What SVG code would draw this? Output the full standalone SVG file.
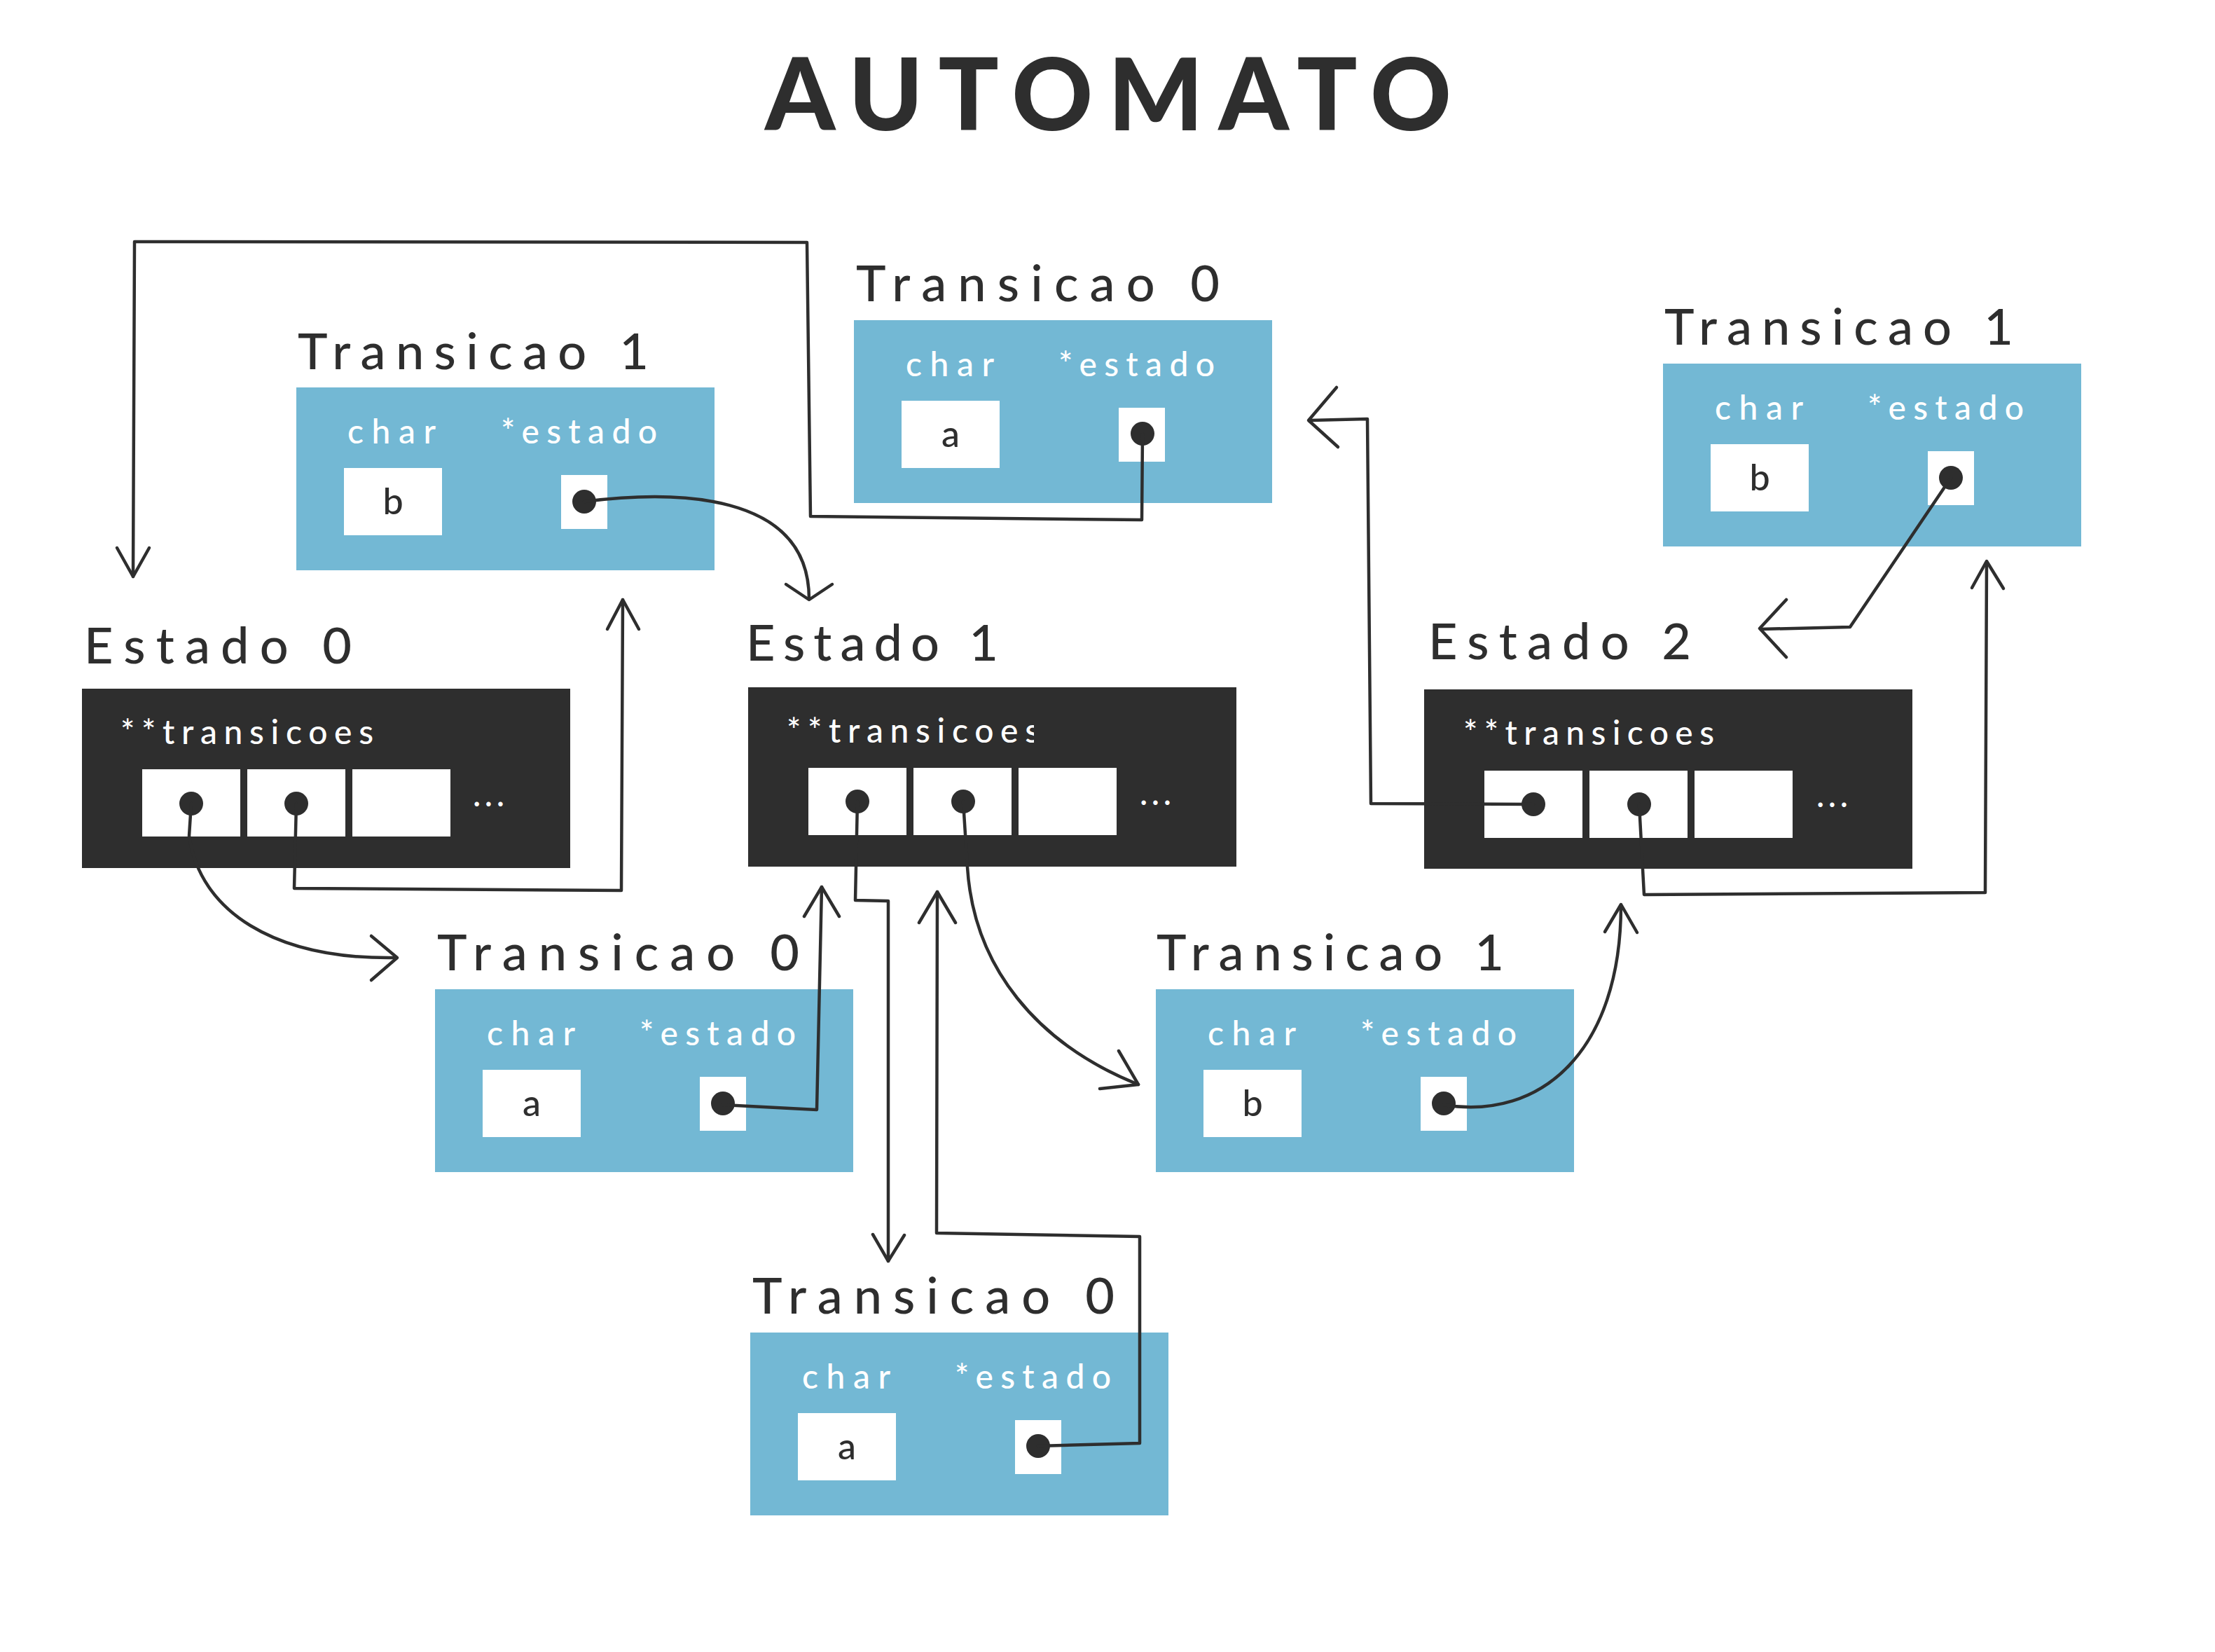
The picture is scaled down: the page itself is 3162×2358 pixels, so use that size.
<svg xmlns="http://www.w3.org/2000/svg" width="3162" height="2358" viewBox="0 0 3162 2358">
<defs>
<style>
.bg{fill:#ffffff}
.tbox{fill:#73B8D4}
.ebox{fill:#2E2E2E}
.cell{fill:#ffffff}
.dot{fill:#2E2E2E}
.title{font-family:Lato,"Liberation Sans",sans-serif;font-weight:900;font-size:143px;fill:#2E2E2E}
.lbl{font-family:Lato,"Liberation Sans",sans-serif;font-weight:500;font-size:72px;fill:#2E2E2E}
.fld{font-family:Lato,"Liberation Sans",sans-serif;font-weight:500;font-size:48px;fill:#ffffff}
.val{font-family:Lato,"Liberation Sans",sans-serif;font-weight:500;font-size:52px;fill:#2E2E2E;text-anchor:middle}
.con{fill:none;stroke:#2E2E2E;stroke-width:4.5;stroke-linecap:round;stroke-linejoin:round}
</style>
<clipPath id="clipE1"><rect x="1068" y="990" width="408" height="100"/></clipPath>
</defs>
<rect class="bg" x="0" y="0" width="3162" height="2358"/>
<text class="title" x="1092" y="186" textLength="980" lengthAdjust="spacing">AUTOMATO</text>

<g id="transicao1-a">
<text class="lbl" x="425" y="527" textLength="501" lengthAdjust="spacing">Transicao 1</text>
<rect class="tbox" x="423" y="553" width="597" height="261"/>
<text class="fld" x="496" y="633" textLength="126" lengthAdjust="spacing">char</text>
<text class="fld" x="715" y="633" textLength="223" lengthAdjust="spacing">*estado</text>
<rect class="cell" x="491" y="668" width="140" height="96"/>
<text class="val" x="561" y="734">b</text>
<rect class="cell" x="801" y="678" width="66" height="77"/>
<circle class="dot" cx="834" cy="716" r="17"/>
</g>

<g id="transicao0-a">
<text class="lbl" x="1222" y="430" textLength="519" lengthAdjust="spacing">Transicao 0</text>
<rect class="tbox" x="1219" y="457" width="597" height="261"/>
<text class="fld" x="1293" y="537" textLength="126" lengthAdjust="spacing">char</text>
<text class="fld" x="1511" y="537" textLength="223" lengthAdjust="spacing">*estado</text>
<rect class="cell" x="1287" y="572" width="140" height="96"/>
<text class="val" x="1357" y="638">a</text>
<rect class="cell" x="1597" y="582" width="66" height="77"/>
<circle class="dot" cx="1631" cy="619" r="17"/>
</g>

<g id="transicao1-b">
<text class="lbl" x="2376" y="492" textLength="498" lengthAdjust="spacing">Transicao 1</text>
<rect class="tbox" x="2374" y="519" width="597" height="261"/>
<text class="fld" x="2448" y="599" textLength="126" lengthAdjust="spacing">char</text>
<text class="fld" x="2666" y="599" textLength="223" lengthAdjust="spacing">*estado</text>
<rect class="cell" x="2442" y="634" width="140" height="96"/>
<text class="val" x="2512" y="700">b</text>
<rect class="cell" x="2752" y="644" width="66" height="77"/>
<circle class="dot" cx="2785" cy="682" r="17"/>
</g>

<g id="transicao0-b">
<text class="lbl" x="624" y="1385" textLength="517" lengthAdjust="spacing">Transicao 0</text>
<rect class="tbox" x="621" y="1412" width="597" height="261"/>
<text class="fld" x="695" y="1492" textLength="126" lengthAdjust="spacing">char</text>
<text class="fld" x="913" y="1492" textLength="223" lengthAdjust="spacing">*estado</text>
<rect class="cell" x="689" y="1527" width="140" height="96"/>
<text class="val" x="759" y="1593">a</text>
<rect class="cell" x="999" y="1537" width="66" height="77"/>
<circle class="dot" cx="1032" cy="1575" r="17"/>
</g>

<g id="transicao1-c">
<text class="lbl" x="1651" y="1385" textLength="496" lengthAdjust="spacing">Transicao 1</text>
<rect class="tbox" x="1650" y="1412" width="597" height="261"/>
<text class="fld" x="1724" y="1492" textLength="126" lengthAdjust="spacing">char</text>
<text class="fld" x="1942" y="1492" textLength="223" lengthAdjust="spacing">*estado</text>
<rect class="cell" x="1718" y="1527" width="140" height="96"/>
<text class="val" x="1788" y="1593">b</text>
<rect class="cell" x="2028" y="1537" width="66" height="77"/>
<circle class="dot" cx="2061" cy="1575" r="17"/>
</g>

<g id="transicao0-c">
<text class="lbl" x="1074" y="1875" textLength="517" lengthAdjust="spacing">Transicao 0</text>
<rect class="tbox" x="1071" y="1902" width="597" height="261"/>
<text class="fld" x="1145" y="1982" textLength="126" lengthAdjust="spacing">char</text>
<text class="fld" x="1363" y="1982" textLength="223" lengthAdjust="spacing">*estado</text>
<rect class="cell" x="1139" y="2017" width="140" height="96"/>
<text class="val" x="1209" y="2083">a</text>
<rect class="cell" x="1449" y="2027" width="66" height="77"/>
<circle class="dot" cx="1482" cy="2064" r="17"/>
</g>

<g id="estado0">
<text class="lbl" x="120" y="947" textLength="382" lengthAdjust="spacing">Estado 0</text>
<rect class="ebox" x="117" y="983" width="697" height="256"/>
<text class="fld" x="172" y="1062" textLength="361" lengthAdjust="spacing">**transicoes</text>
<rect class="cell" x="203" y="1098" width="140" height="96"/>
<rect class="cell" x="353" y="1098" width="140" height="96"/>
<rect class="cell" x="503" y="1098" width="140" height="96"/>
<circle class="dot" cx="273" cy="1147" r="17"/>
<circle class="dot" cx="423" cy="1147" r="17"/>
<text class="fld" x="675" y="1151" textLength="45" lengthAdjust="spacing">...</text>
</g>

<g id="estado1">
<text class="lbl" x="1065" y="943" textLength="360" lengthAdjust="spacing">Estado 1</text>
<rect class="ebox" x="1068" y="981" width="697" height="256"/>
<text class="fld" x="1123" y="1060" textLength="361" lengthAdjust="spacing" clip-path="url(#clipE1)">**transicoes</text>
<rect class="cell" x="1154" y="1096" width="140" height="96"/>
<rect class="cell" x="1304" y="1096" width="140" height="96"/>
<rect class="cell" x="1454" y="1096" width="140" height="96"/>
<circle class="dot" cx="1224" cy="1144" r="17"/>
<circle class="dot" cx="1375" cy="1144" r="17"/>
<text class="fld" x="1627" y="1149" textLength="45" lengthAdjust="spacing">...</text>
</g>

<g id="estado2">
<text class="lbl" x="2039" y="941" textLength="375" lengthAdjust="spacing">Estado 2</text>
<rect class="ebox" x="2033" y="984" width="697" height="256"/>
<text class="fld" x="2089" y="1063" textLength="358" lengthAdjust="spacing">**transicoes</text>
<rect class="cell" x="2119" y="1100" width="140" height="96"/>
<rect class="cell" x="2269" y="1100" width="140" height="96"/>
<rect class="cell" x="2419" y="1100" width="140" height="96"/>
<circle class="dot" cx="2189" cy="1148" r="17"/>
<circle class="dot" cx="2340" cy="1148" r="17"/>
<text class="fld" x="2593" y="1152" textLength="45" lengthAdjust="spacing">...</text>
</g>

<g id="connectors">
<!-- A: Transicao 0 (top) -> Estado 0 -->
<path class="con" d="M1631 619 L1630 742 L1157 737 L1152 346 L192 345 L190 823"/>
<path class="con" d="M167 782 L190 823 L213 782"/>
<!-- B: Transicao 1 (top-left) -> Estado 1 -->
<path class="con" d="M834 716 C960 700 1155 700 1155 855"/>
<path class="con" d="M1122 834 L1155 856 L1188 834"/>
<!-- C: Estado 0 cell 1 -> Transicao 0 (mid-left) -->
<path class="con" d="M273 1147 L270 1193 C285 1300 390 1370 566 1367"/>
<path class="con" d="M530 1336 L567 1367 L530 1399"/>
<!-- D: Estado 0 cell 2 -> Transicao 1 (top-left) -->
<path class="con" d="M423 1147 L420 1268 L887 1271 L889 856"/>
<path class="con" d="M867 898 L889 856 L912 898"/>
<!-- E: Transicao 0 (mid-left) -> Estado 1 -->
<path class="con" d="M1032 1577 L1166 1584 L1173 1266"/>
<path class="con" d="M1148 1308 L1173 1266 L1198 1308"/>
<!-- F: Estado 1 cell 1 -> Transicao 0 (bottom) -->
<path class="con" d="M1224 1144 L1221 1285 L1268 1286 L1268 1800"/>
<path class="con" d="M1246 1762 L1268 1800 L1291 1763"/>
<!-- G: Transicao 0 (bottom) -> Estado 1 -->
<path class="con" d="M1482 2064 L1627 2060 L1627 1765 L1337 1760 L1338 1273"/>
<path class="con" d="M1312 1317 L1338 1273 L1364 1317"/>
<!-- H: Estado 1 cell 2 -> Transicao 1 (mid-right) -->
<path class="con" d="M1375 1144 L1381 1238 C1390 1380 1480 1490 1625 1548"/>
<path class="con" d="M1597 1500 L1625 1548 L1570 1554"/>
<!-- I: Transicao 1 (mid-right) -> Estado 2 -->
<path class="con" d="M2061 1577 C2200 1600 2314 1500 2314 1292"/>
<path class="con" d="M2291 1330 L2314 1291 L2337 1331"/>
<!-- J: Estado 2 cell 2 -> Transicao 1 (top-right) -->
<path class="con" d="M2340 1148 L2347 1277 L2834 1274 L2836 802"/>
<path class="con" d="M2815 839 L2836 801 L2860 840"/>
<!-- K: Transicao 1 (top-right) -> Estado 2 -->
<path class="con" d="M2785 682 L2641 895 L2514 898"/>
<path class="con" d="M2550 856 L2512 897 L2550 938"/>
<!-- L: Estado 2 cell 1 -> Transicao 0 (top) -->
<path class="con" d="M2189 1148 L1957 1147 L1952 598 L1870 600"/>
<path class="con" d="M1908 553 L1868 600 L1910 638"/>
</g>
</svg>
